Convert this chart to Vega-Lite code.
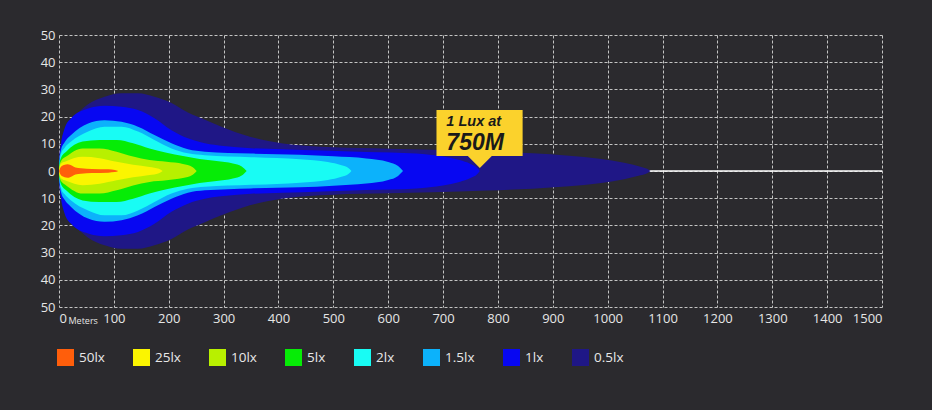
{
  "$schema": "https://vega.github.io/schema/vega-lite/v6.json",
  "description": "Beam pattern of a light bar: isolux bands by distance",
  "width": 823,
  "height": 272,
  "autosize": {"type": "none"},
  "padding": {"left": 59, "top": 35, "right": 50, "bottom": 103},
  "background": "#2b2a2e",
  "datasets": {
    "bands": [
      {"lux": "0.5lx", "x": 0, "lo": 0, "hi": 0},
      {"lux": "0.5lx", "x": 1, "lo": -6, "hi": 6},
      {"lux": "0.5lx", "x": 4, "lo": -11, "hi": 11},
      {"lux": "0.5lx", "x": 10, "lo": -15, "hi": 15},
      {"lux": "0.5lx", "x": 22, "lo": -18.5, "hi": 18.5},
      {"lux": "0.5lx", "x": 53, "lo": -24.5, "hi": 24.5},
      {"lux": "0.5lx", "x": 83, "lo": -27.3, "hi": 27.3},
      {"lux": "0.5lx", "x": 114, "lo": -28.6, "hi": 28.6},
      {"lux": "0.5lx", "x": 144, "lo": -28.6, "hi": 28.6},
      {"lux": "0.5lx", "x": 174, "lo": -27.3, "hi": 27.3},
      {"lux": "0.5lx", "x": 205, "lo": -25, "hi": 25},
      {"lux": "0.5lx", "x": 235, "lo": -21.5, "hi": 21.5},
      {"lux": "0.5lx", "x": 266, "lo": -18.8, "hi": 18.8},
      {"lux": "0.5lx", "x": 296, "lo": -16.3, "hi": 16.3},
      {"lux": "0.5lx", "x": 348, "lo": -12.6, "hi": 12.6},
      {"lux": "0.5lx", "x": 408, "lo": -10.1, "hi": 10.1},
      {"lux": "0.5lx", "x": 500, "lo": -8.7, "hi": 8.7},
      {"lux": "0.5lx", "x": 600, "lo": -8.2, "hi": 8.2},
      {"lux": "0.5lx", "x": 681, "lo": -7.8, "hi": 7.8},
      {"lux": "0.5lx", "x": 780, "lo": -7.2, "hi": 7.2},
      {"lux": "0.5lx", "x": 863, "lo": -6.5, "hi": 6.5},
      {"lux": "0.5lx", "x": 930, "lo": -5.6, "hi": 5.6},
      {"lux": "0.5lx", "x": 985, "lo": -4.5, "hi": 4.5},
      {"lux": "0.5lx", "x": 1030, "lo": -3, "hi": 3},
      {"lux": "0.5lx", "x": 1060, "lo": -1.6, "hi": 1.6},
      {"lux": "0.5lx", "x": 1072, "lo": -0.8, "hi": 0.8},
      {"lux": "0.5lx", "x": 1078, "lo": 0, "hi": 0},

      {"lux": "1lx", "x": 0, "lo": 0, "hi": 0},
      {"lux": "1lx", "x": 1, "lo": -5, "hi": 5},
      {"lux": "1lx", "x": 4, "lo": -10, "hi": 10},
      {"lux": "1lx", "x": 10, "lo": -15.5, "hi": 15.5},
      {"lux": "1lx", "x": 22, "lo": -19.4, "hi": 19.4},
      {"lux": "1lx", "x": 53, "lo": -23, "hi": 23},
      {"lux": "1lx", "x": 83, "lo": -24, "hi": 24},
      {"lux": "1lx", "x": 114, "lo": -23.6, "hi": 23.6},
      {"lux": "1lx", "x": 144, "lo": -22.4, "hi": 22.4},
      {"lux": "1lx", "x": 174, "lo": -19.4, "hi": 19.4},
      {"lux": "1lx", "x": 205, "lo": -15, "hi": 15},
      {"lux": "1lx", "x": 235, "lo": -12, "hi": 12},
      {"lux": "1lx", "x": 266, "lo": -10.2, "hi": 10.2},
      {"lux": "1lx", "x": 300, "lo": -9.2, "hi": 9.2},
      {"lux": "1lx", "x": 350, "lo": -8.4, "hi": 8.4},
      {"lux": "1lx", "x": 408, "lo": -8, "hi": 8},
      {"lux": "1lx", "x": 480, "lo": -7.5, "hi": 7.5},
      {"lux": "1lx", "x": 560, "lo": -7, "hi": 7},
      {"lux": "1lx", "x": 651, "lo": -6.4, "hi": 6.4},
      {"lux": "1lx", "x": 700, "lo": -5.3, "hi": 5.3},
      {"lux": "1lx", "x": 730, "lo": -4, "hi": 4},
      {"lux": "1lx", "x": 750, "lo": -2.6, "hi": 2.6},
      {"lux": "1lx", "x": 762, "lo": -1.2, "hi": 1.2},
      {"lux": "1lx", "x": 767, "lo": 0, "hi": 0},

      {"lux": "1.5lx", "x": 0, "lo": 0, "hi": 0},
      {"lux": "1.5lx", "x": 1, "lo": -4, "hi": 4},
      {"lux": "1.5lx", "x": 4, "lo": -8, "hi": 8},
      {"lux": "1.5lx", "x": 10, "lo": -10.5, "hi": 10.5},
      {"lux": "1.5lx", "x": 22, "lo": -13.2, "hi": 13.2},
      {"lux": "1.5lx", "x": 53, "lo": -17.5, "hi": 17.5},
      {"lux": "1.5lx", "x": 83, "lo": -18.7, "hi": 18.7},
      {"lux": "1.5lx", "x": 114, "lo": -18.1, "hi": 18.1},
      {"lux": "1.5lx", "x": 144, "lo": -16.3, "hi": 16.3},
      {"lux": "1.5lx", "x": 174, "lo": -13.2, "hi": 13.2},
      {"lux": "1.5lx", "x": 205, "lo": -10.2, "hi": 10.2},
      {"lux": "1.5lx", "x": 235, "lo": -8, "hi": 8},
      {"lux": "1.5lx", "x": 266, "lo": -7.1, "hi": 7.1},
      {"lux": "1.5lx", "x": 350, "lo": -6.4, "hi": 6.4},
      {"lux": "1.5lx", "x": 439, "lo": -6, "hi": 6},
      {"lux": "1.5lx", "x": 500, "lo": -5.4, "hi": 5.4},
      {"lux": "1.5lx", "x": 560, "lo": -4.6, "hi": 4.6},
      {"lux": "1.5lx", "x": 600, "lo": -3.3, "hi": 3.3},
      {"lux": "1.5lx", "x": 618, "lo": -1.8, "hi": 1.8},
      {"lux": "1.5lx", "x": 627, "lo": 0, "hi": 0},

      {"lux": "2lx", "x": 0, "lo": 0, "hi": 0},
      {"lux": "2lx", "x": 1, "lo": -3, "hi": 3},
      {"lux": "2lx", "x": 4, "lo": -6.5, "hi": 6.5},
      {"lux": "2lx", "x": 10, "lo": -8.5, "hi": 8.5},
      {"lux": "2lx", "x": 22, "lo": -10.8, "hi": 10.8},
      {"lux": "2lx", "x": 53, "lo": -14.5, "hi": 14.5},
      {"lux": "2lx", "x": 83, "lo": -16.3, "hi": 16.3},
      {"lux": "2lx", "x": 114, "lo": -16.3, "hi": 16.3},
      {"lux": "2lx", "x": 144, "lo": -14.5, "hi": 14.5},
      {"lux": "2lx", "x": 174, "lo": -11.4, "hi": 11.4},
      {"lux": "2lx", "x": 205, "lo": -8.3, "hi": 8.3},
      {"lux": "2lx", "x": 235, "lo": -6.5, "hi": 6.5},
      {"lux": "2lx", "x": 266, "lo": -5.8, "hi": 5.8},
      {"lux": "2lx", "x": 350, "lo": -5.1, "hi": 5.1},
      {"lux": "2lx", "x": 439, "lo": -4.3, "hi": 4.3},
      {"lux": "2lx", "x": 490, "lo": -3.3, "hi": 3.3},
      {"lux": "2lx", "x": 515, "lo": -2.1, "hi": 2.1},
      {"lux": "2lx", "x": 528, "lo": -1, "hi": 1},
      {"lux": "2lx", "x": 533, "lo": 0, "hi": 0},

      {"lux": "5lx", "x": 0, "lo": 0, "hi": 0},
      {"lux": "5lx", "x": 1, "lo": -2.5, "hi": 2.5},
      {"lux": "5lx", "x": 4, "lo": -5, "hi": 5},
      {"lux": "5lx", "x": 13, "lo": -7.1, "hi": 7.1},
      {"lux": "5lx", "x": 43, "lo": -10.8, "hi": 10.8},
      {"lux": "5lx", "x": 74, "lo": -11.4, "hi": 11.4},
      {"lux": "5lx", "x": 105, "lo": -11.4, "hi": 11.4},
      {"lux": "5lx", "x": 135, "lo": -10.2, "hi": 10.2},
      {"lux": "5lx", "x": 165, "lo": -8.3, "hi": 8.3},
      {"lux": "5lx", "x": 196, "lo": -6.7, "hi": 6.7},
      {"lux": "5lx", "x": 226, "lo": -5.5, "hi": 5.5},
      {"lux": "5lx", "x": 256, "lo": -4.4, "hi": 4.4},
      {"lux": "5lx", "x": 287, "lo": -3.7, "hi": 3.7},
      {"lux": "5lx", "x": 317, "lo": -2.8, "hi": 2.8},
      {"lux": "5lx", "x": 333, "lo": -1.7, "hi": 1.7},
      {"lux": "5lx", "x": 342, "lo": 0, "hi": 0},

      {"lux": "10lx", "x": 0, "lo": 0, "hi": 0},
      {"lux": "10lx", "x": 1, "lo": -2, "hi": 2},
      {"lux": "10lx", "x": 4, "lo": -3.8, "hi": 3.8},
      {"lux": "10lx", "x": 13, "lo": -5.3, "hi": 5.3},
      {"lux": "10lx", "x": 43, "lo": -8.3, "hi": 8.3},
      {"lux": "10lx", "x": 74, "lo": -8.3, "hi": 8.3},
      {"lux": "10lx", "x": 105, "lo": -7.1, "hi": 7.1},
      {"lux": "10lx", "x": 135, "lo": -5.3, "hi": 5.3},
      {"lux": "10lx", "x": 165, "lo": -4, "hi": 4},
      {"lux": "10lx", "x": 196, "lo": -3.4, "hi": 3.4},
      {"lux": "10lx", "x": 226, "lo": -2.6, "hi": 2.6},
      {"lux": "10lx", "x": 243, "lo": -1.5, "hi": 1.5},
      {"lux": "10lx", "x": 251, "lo": 0, "hi": 0},

      {"lux": "25lx", "x": 0, "lo": 0, "hi": 0},
      {"lux": "25lx", "x": 1, "lo": -1.5, "hi": 1.5},
      {"lux": "25lx", "x": 4, "lo": -2.8, "hi": 2.8},
      {"lux": "25lx", "x": 13, "lo": -3.6, "hi": 3.6},
      {"lux": "25lx", "x": 43, "lo": -5.2, "hi": 5.2},
      {"lux": "25lx", "x": 74, "lo": -4.7, "hi": 4.7},
      {"lux": "25lx", "x": 105, "lo": -3.4, "hi": 3.4},
      {"lux": "25lx", "x": 135, "lo": -2.3, "hi": 2.3},
      {"lux": "25lx", "x": 165, "lo": -1.5, "hi": 1.5},
      {"lux": "25lx", "x": 182, "lo": -0.8, "hi": 0.8},
      {"lux": "25lx", "x": 189, "lo": 0, "hi": 0},

      {"lux": "50lx", "x": 0, "lo": 0, "hi": 0},
      {"lux": "50lx", "x": 3, "lo": -1.4, "hi": 1.4},
      {"lux": "50lx", "x": 9, "lo": -2.2, "hi": 2.2},
      {"lux": "50lx", "x": 16, "lo": -2.5, "hi": 2.5},
      {"lux": "50lx", "x": 24, "lo": -1.9, "hi": 1.9},
      {"lux": "50lx", "x": 30, "lo": -1.3, "hi": 1.3},
      {"lux": "50lx", "x": 40, "lo": -1, "hi": 1},
      {"lux": "50lx", "x": 60, "lo": -0.75, "hi": 0.75},
      {"lux": "50lx", "x": 90, "lo": -0.6, "hi": 0.6},
      {"lux": "50lx", "x": 102, "lo": -0.4, "hi": 0.4},
      {"lux": "50lx", "x": 108, "lo": 0, "hi": 0}
    ],
    "callout": [
      {"part": "box", "x": 688, "x2": 845, "y": 5.5, "y2": 22.4}
    ],
    "pointer": [
      {"x": 767, "y": 1.1}
    ],
    "labels": [
      {"line": 1, "x": 706, "y": 18, "text": "1 Lux at"},
      {"line": 2, "x": 706, "y": 10.3, "text": "750M"}
    ],
    "axisnote": [
      {"x": 0, "y": -50, "text": "Meters"}
    ],
    "centre": [
      {"from": 0, "to": 1500, "level": 0}
    ]
  },
  "layer": [
    {
      "data": {"name": "centre"},
      "mark": {"type": "rule", "color": "#ffffff", "strokeWidth": 1.5},
      "encoding": {
        "x": {
          "field": "from",
          "type": "quantitative",
          "scale": {"domain": [0, 1500], "nice": false, "zero": false},
          "axis": {
            "title": null,
            "values": [0, 100, 200, 300, 400, 500, 600, 700, 800, 900, 1000, 1100, 1200, 1300, 1400, 1500],
            "format": "d",
            "labelOverlap": false,
            "labelPadding": 5
          }
        },
        "x2": {"field": "to"},
        "y": {
          "field": "level",
          "type": "quantitative",
          "scale": {"domain": [-50, 50], "nice": false},
          "axis": {
            "title": null,
            "values": [-50, -40, -30, -20, -10, 0, 10, 20, 30, 40, 50],
            "tickCount": 11,
            "labelExpr": "format(abs(datum.value), 'd')",
            "labelOverlap": false,
            "labelPadding": 4
          }
        }
      }
    },
    {
      "data": {"name": "bands"},
      "mark": {"type": "area", "interpolate": "monotone", "opacity": 1},
      "encoding": {
        "x": {"field": "x", "type": "quantitative"},
        "y": {"field": "lo", "type": "quantitative"},
        "y2": {"field": "hi"},
        "color": {
          "field": "lux",
          "type": "nominal",
          "scale": {
            "domain": ["50lx", "25lx", "10lx", "5lx", "2lx", "1.5lx", "1lx", "0.5lx"],
            "range": ["#ff5e0b", "#fbf500", "#b8f000", "#06ec06", "#18fcf4", "#0cb2fb", "#0707f2", "#1f1786"]
          },
          "legend": {
            "orient": "none",
            "legendX": -2,
            "legendY": 314,
            "direction": "horizontal",
            "columns": 8,
            "title": null,
            "padding": 0,
            "symbolType": "square",
            "symbolSize": 289,
            "symbolStrokeWidth": 0,
            "symbolOpacity": 1,
            "labelFont": "Open Sans",
            "labelFontSize": 13.5,
            "labelColor": "#e8e8e8",
            "labelOffset": 5,
            "columnPadding": 28
          }
        }
      }
    },
    {
      "data": {"name": "callout"},
      "mark": {"type": "rect", "color": "#fbd22c"},
      "encoding": {
        "x": {"field": "x", "type": "quantitative"},
        "x2": {"field": "x2"},
        "y": {"field": "y", "type": "quantitative"},
        "y2": {"field": "y2"}
      }
    },
    {
      "data": {"name": "pointer"},
      "mark": {
        "type": "point",
        "shape": "M-1,-1L1,-1L0,0Z",
        "size": 576,
        "filled": true,
        "color": "#fbd22c",
        "opacity": 1,
        "strokeWidth": 0
      },
      "encoding": {
        "x": {"field": "x", "type": "quantitative"},
        "y": {"field": "y", "type": "quantitative"}
      }
    },
    {
      "data": {"name": "labels"},
      "transform": [{"filter": "datum.line == 1"}],
      "mark": {
        "type": "text",
        "align": "left",
        "baseline": "middle",
        "font": "Liberation Sans",
        "fontWeight": "bold",
        "fontStyle": "italic",
        "fontSize": 14.5,
        "color": "#1a1a1a"
      },
      "encoding": {
        "x": {"field": "x", "type": "quantitative"},
        "y": {"field": "y", "type": "quantitative"},
        "text": {"field": "text"}
      }
    },
    {
      "data": {"name": "labels"},
      "transform": [{"filter": "datum.line == 2"}],
      "mark": {
        "type": "text",
        "align": "left",
        "baseline": "middle",
        "font": "Liberation Sans",
        "fontWeight": "bold",
        "fontStyle": "italic",
        "fontSize": 23,
        "color": "#1a1a1a"
      },
      "encoding": {
        "x": {"field": "x", "type": "quantitative"},
        "y": {"field": "y", "type": "quantitative"},
        "text": {"field": "text"}
      }
    },
    {
      "data": {"name": "axisnote"},
      "mark": {
        "type": "text",
        "align": "left",
        "baseline": "middle",
        "dx": 9.5,
        "dy": 14,
        "font": "Open Sans",
        "fontSize": 9,
        "color": "#e6e6e6",
        "clip": false
      },
      "encoding": {
        "x": {"field": "x", "type": "quantitative"},
        "y": {"field": "y", "type": "quantitative"},
        "text": {"field": "text"}
      }
    }
  ],
  "config": {
    "view": {"stroke": null},
    "axis": {
      "domain": false,
      "ticks": false,
      "tickSize": 0,
      "grid": true,
      "gridColor": "#c4c4c4",
      "gridDash": [3, 2],
      "gridWidth": 1,
      "gridOpacity": 1,
      "labelFont": "Open Sans",
      "labelFontSize": 13,
      "labelColor": "#e6e6e6"
    },
    "axisY": {"labelOverlap": false}
  }
}
